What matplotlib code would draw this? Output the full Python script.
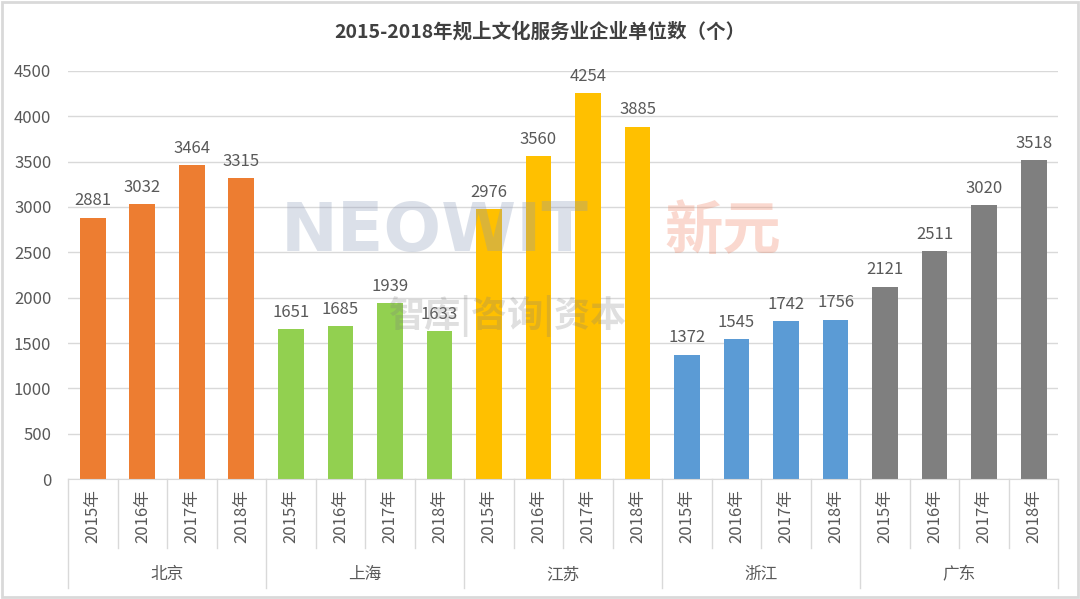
import numpy as np
import matplotlib.pyplot as plt
import matplotlib.transforms as mtransforms
from matplotlib.patches import Rectangle

plt.rcParams['font.family'] = ['Noto Sans CJK SC', 'DejaVu Sans']

# Data
provinces = ['北京', '上海', '江苏', '浙江', '广东']
years = ['2015年', '2016年', '2017年', '2018年']
beijing = [2881, 3032, 3464, 3315]
shanghai = [1651, 1685, 1939, 1633]
jiangsu = [2976, 3560, 4254, 3885]
zhejiang = [1372, 1545, 1742, 1756]
guangdong = [2121, 2511, 3020, 3518]
colors = ['#ED7D31', '#92D050', '#FFC000', '#5B9BD5', '#7F7F7F']

values = [beijing, shanghai, jiangsu, zhejiang, guangdong]
txt_col = '#595959'

fig = plt.figure(figsize=(10.8, 5.99), dpi=100)
ax = fig.add_axes([0.063, 0.2003, 0.917, 0.6812])

n_years = len(years)
for i, (vals, col) in enumerate(zip(values, colors)):
    x = np.arange(n_years) + i * n_years
    bars = ax.bar(x, vals, width=0.52, color=col, zorder=2)
    for b, v in zip(bars, vals):
        ax.annotate(str(v), (b.get_x() + b.get_width() / 2, v), xytext=(0, 6),
                    textcoords='offset points', ha='center', va='bottom',
                    fontsize=12, color=txt_col, zorder=6)

n = n_years * len(provinces)
ax.set_xlim(-0.5, n - 0.5)
ax.set_ylim(0, 4500)
ax.set_yticks(np.arange(0, 4501, 500))
ax.yaxis.grid(True, color='#D9D9D9', lw=1, zorder=0)
ax.tick_params(axis='y', length=0, labelsize=12, labelcolor=txt_col, pad=12)
ax.tick_params(axis='x', length=0, labelbottom=False)
for s in ['top', 'right', 'left']:
    ax.spines[s].set_visible(False)
ax.spines['bottom'].set_color('#D9D9D9')

# two level category axis
tr = mtransforms.blended_transform_factory(ax.transData, ax.transAxes)
for k in range(n):
    ax.text(k, -0.09, years[k % n_years], rotation=90, ha='center', va='center',
            fontsize=12, color=txt_col, transform=tr)
for k in range(n + 1):
    bottom = -0.267 if k % n_years == 0 else -0.169
    ax.plot([k - 0.5, k - 0.5], [0, bottom], color='#D9D9D9', lw=1,
            transform=tr, clip_on=False)
for i, p in enumerate(provinces):
    ax.text(i * n_years + 1.5, -0.235, p, ha='center', va='center',
            fontsize=12, color=txt_col, transform=tr)

fig.text(0.5, 0.947, '2015-2018年规上文化服务业企业单位数（个）', ha='center',
         va='center', fontsize=14, fontweight='bold', color='#404040')

# watermark
fig.text(0.26, 0.612, 'NEOWIT', fontsize=49, fontweight='bold', color='#8A9AB8',
         alpha=0.3, ha='left', va='center', zorder=1, family='DejaVu Sans')
fig.text(0.615, 0.612, '新元', fontsize=42, fontweight='bold', color='#F08060',
         alpha=0.3, ha='left', va='center', zorder=1)
fig.text(0.36, 0.472, '智库|咨询|资本', fontsize=26, fontweight='bold', color='#808080',
         alpha=0.25, ha='left', va='center', zorder=1)

fig.patches.append(Rectangle((0.002, 0.003), 0.996, 0.994, transform=fig.transFigure,
                             fill=False, edgecolor='#D9D9D9', lw=2))

fig.savefig('out.png', dpi=100)
